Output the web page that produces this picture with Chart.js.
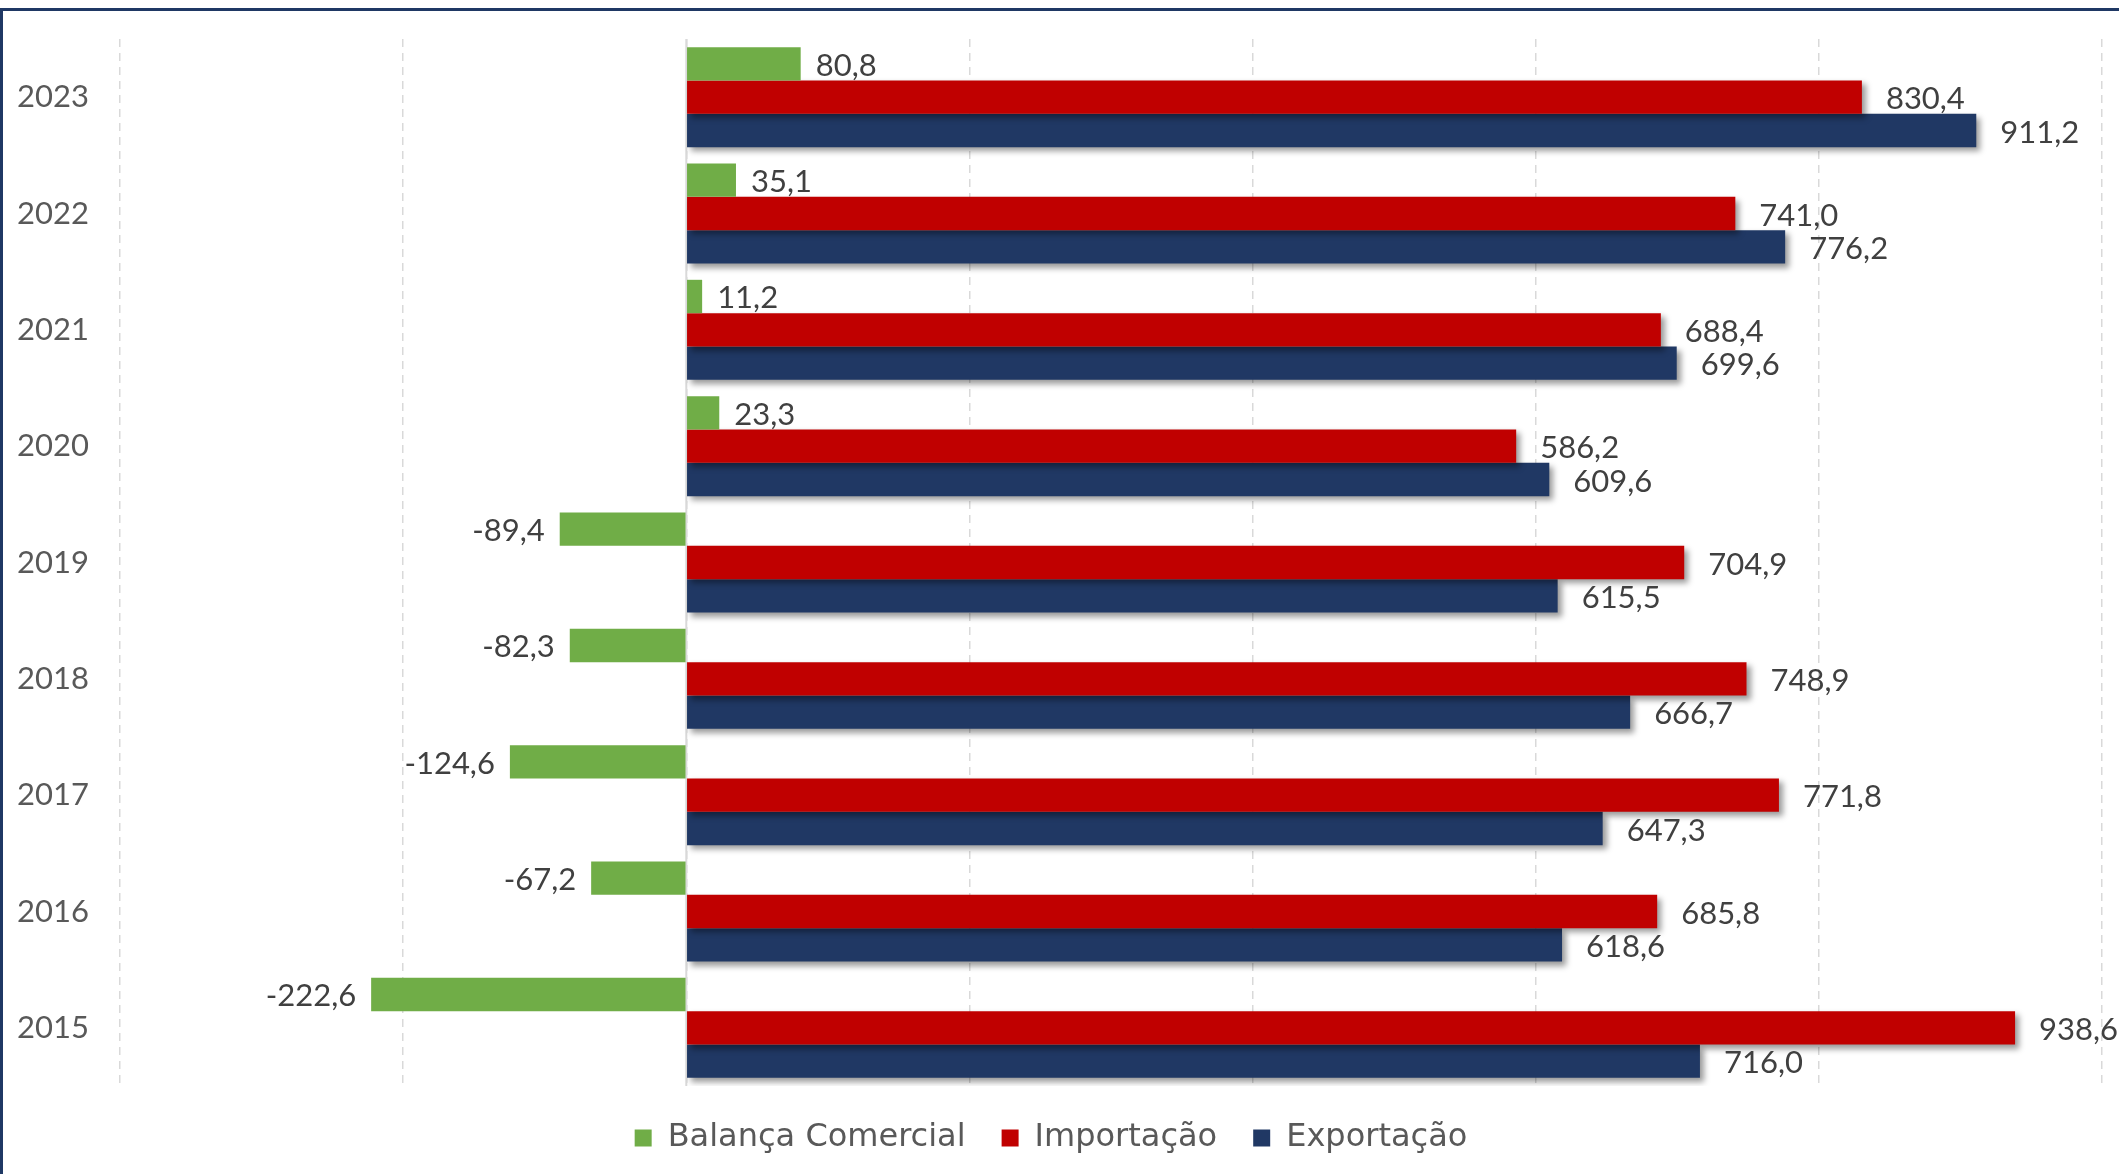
<!DOCTYPE html>
<html>
<head>
<meta charset="utf-8">
<script src="https://cdn.jsdelivr.net/npm/chart.js@4/dist/chart.umd.min.js"></script>
<style>
  html, body { margin: 0; padding: 0; background: #fff; }
  #wrap { position: relative; width: 2119px; height: 1174px; overflow: hidden; }
  #frame { position: absolute; left: 0; top: 8px; width: 2125px; height: 1180px;
           border-top: 3px solid #1f3864; border-left: 3px solid #1f3864; box-sizing: border-box; pointer-events: none; }
  canvas { position: absolute; left: 0; top: 0; }
</style>
</head>
<body>
<div id="wrap">
  <canvas id="tradeChart" width="2119" height="1174"></canvas>
  <div id="frame"></div>
</div>
<script>
const years = ['2023', '2022', '2021', '2020', '2019', '2018', '2017', '2016', '2015'];
const balanca = [80.8, 35.1, 11.2, 23.3, -89.4, -82.3, -124.6, -67.2, -222.6];
const importacao = [830.4, 741.0, 688.4, 586.2, 704.9, 748.9, 771.8, 685.8, 938.6];
const exportacao = [911.2, 776.2, 699.6, 609.6, 615.5, 666.7, 647.3, 618.6, 716.0];

const greenColour = '#70ad47';
const redColour = '#c00000';
const blueColour = '#203864';
const fontFamily = 'Lato, "Open Sans", sans-serif';

const fmt = v => v.toFixed(1).replace('.', ',');

// drop shadow on the red and blue bars only
const barShadow = {
  id: 'barShadow',
  beforeDatasetDraw(chart, args) {
    if (args.index === 0) return;
    const ctx = chart.ctx;
    ctx.save();
    ctx.shadowColor = 'rgba(0, 0, 0, 0.4)';
    ctx.shadowBlur = 6;
    ctx.shadowOffsetX = 4;
    ctx.shadowOffsetY = 4;
  },
  afterDatasetDraw(chart, args) {
    if (args.index === 0) return;
    chart.ctx.restore();
  }
};

// solid line at zero
const zeroLine = {
  id: 'zeroLine',
  beforeDatasetsDraw(chart) {
    const { ctx, chartArea, scales } = chart;
    const x = scales.x.getPixelForValue(0);
    ctx.save();
    ctx.strokeStyle = '#d9d9d9';
    ctx.lineWidth = 2;
    ctx.beginPath();
    ctx.moveTo(x, chartArea.top);
    ctx.lineTo(x, chartArea.bottom);
    ctx.stroke();
    ctx.restore();
  }
};

// value labels at bar ends
const valueLabels = {
  id: 'valueLabels',
  afterDatasetsDraw(chart) {
    const ctx = chart.ctx;
    ctx.save();
    ctx.font = '31px ' + fontFamily;
    ctx.fillStyle = '#404040';
    ctx.textBaseline = 'middle';
    chart.data.datasets.forEach((ds, i) => {
      const meta = chart.getDatasetMeta(i);
      const gap = i === 0 ? 15 : 24;
      meta.data.forEach((bar, j) => {
        const v = ds.data[j];
        if (v >= 0) {
          ctx.textAlign = 'left';
          ctx.fillText(fmt(v), bar.x + gap, bar.y + 2);
        } else {
          ctx.textAlign = 'right';
          ctx.fillText(fmt(v), bar.x - gap, bar.y + 2);
        }
      });
    });
    ctx.restore();
  }
};

new Chart(document.getElementById('tradeChart'), {
  type: 'bar',
  data: {
    labels: years,
    datasets: [
      { label: 'Balança Comercial', data: balanca, backgroundColor: greenColour },
      { label: 'Importação', data: importacao, backgroundColor: redColour },
      { label: 'Exportação', data: exportacao, backgroundColor: blueColour }
    ]
  },
  options: {
    indexAxis: 'y',
    responsive: false,
    animation: false,
    datasets: {
      bar: { categoryPercentage: 0.86, barPercentage: 1.0, borderWidth: 0 }
    },
    layout: { padding: { top: 39, right: 17, left: 0, bottom: 10 } },
    plugins: {
      tooltip: { enabled: false },
      legend: {
        position: 'bottom',
        labels: {
          font: { family: '"DejaVu Sans", sans-serif', size: 32 },
          color: '#595959',
          boxWidth: 17,
          boxHeight: 17,
          padding: 36
        }
      }
    },
    scales: {
      x: {
        min: -400,
        max: 1000,
        ticks: { display: false, stepSize: 200 },
        grid: { color: '#d9d9d9', lineWidth: 1.5, drawTicks: false },
        border: { display: false, dash: [8, 6] }
      },
      y: {
        grid: { display: false, drawTicks: false },
        border: { display: false },
        ticks: {
          font: { family: fontFamily, size: 31 },
          color: '#595959',
          padding: 31
        },
        afterFit(scale) {
          scale.width = 120;
          scale.paddingTop = 0;
          scale.paddingBottom = 0;
        }
      }
    }
  },
  plugins: [barShadow, zeroLine, valueLabels]
});
</script>
</body>
</html>
